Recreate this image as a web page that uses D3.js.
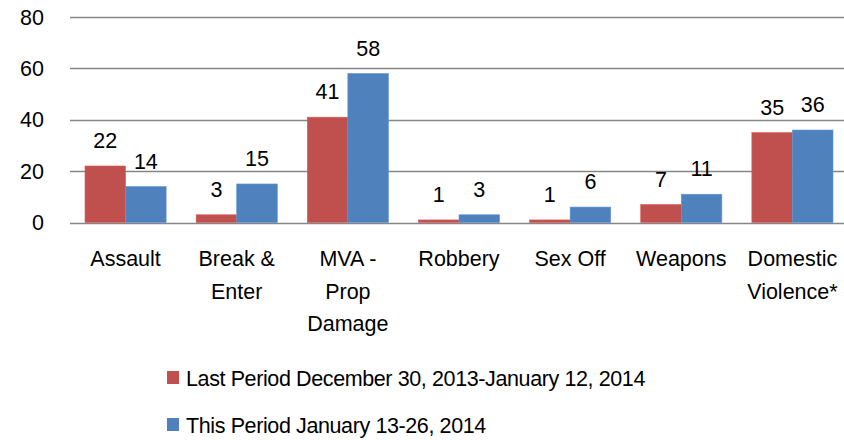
<!DOCTYPE html>
<html><head><meta charset="utf-8">
<script src="https://cdn.jsdelivr.net/npm/d3@7"></script>
<style>body{margin:0;background:#fff}svg{display:block}text{font-family:"Liberation Sans",Arial,sans-serif;fill:#000}</style>
</head><body><svg id="c" width="844" height="440"></svg>
<script>
const categories = [["Assault"],["Break &","Enter"],["MVA -","Prop","Damage"],["Robbery"],["Sex Off"],["Weapons"],["Domestic","Violence*"]];
const lastPeriod = [22,3,41,1,1,7,35];
const thisPeriod = [14,15,58,3,6,11,36];
const seriesNames = ["Last Period December 30, 2013-January 12, 2014","This Period January 13-26, 2014"];
const colors = ["#C0504D","#4F81BD"];
const yTicks = [0,20,40,60,80];

const svg = d3.select("#c");
const fs = 21.5;
// fit legend letter-spacing so the first legend text matches reference width
const probe = svg.append("text").style("font-size",fs+"px").text(seriesNames[0]);
const ls = (459 - probe.node().getComputedTextLength())/seriesNames[0].length;
probe.remove();

const x = d3.scaleBand().domain(d3.range(categories.length)).range([70,848]).paddingInner(0.27).paddingOuter(0.135);
const y = d3.scaleLinear().domain([0,80]).range([222.5,17]);
const xs = d3.scaleBand().domain([0,1]).range([0,x.bandwidth()]);

svg.append("g").selectAll("line").data(yTicks).join("line")
  .attr("x1",70).attr("x2",848).attr("y1",d=>Math.round(y(d))+0.5).attr("y2",d=>Math.round(y(d))+0.5)
  .attr("stroke","#868686").attr("stroke-width",1.3);
svg.append("g").selectAll("text").data(yTicks).join("text")
  .attr("x",44).attr("y",d=>y(d)).attr("dy","0.36em").attr("text-anchor","end")
  .style("font-size",fs+"px").text(d=>d);

const series=[lastPeriod,thisPeriod];
series.forEach((vals,si)=>{
  const g=svg.append("g");
  g.selectAll("rect").data(vals).join("rect")
    .attr("x",(d,i)=>x(i)+xs(si)).attr("width",xs.bandwidth())
    .attr("y",d=>y(d)).attr("height",d=>y(0)-y(d))
    .attr("fill",colors[si]).attr("stroke",d3.color(colors[si]).brighter(0.4)).attr("stroke-width",0.6);
  g.selectAll("text").data(vals).join("text")
    .attr("x",(d,i)=>x(i)+xs(si)+xs.bandwidth()/2).attr("y",d=>y(d)-18)
    .attr("text-anchor","middle").style("font-size",fs+"px").text(d=>d);
});

const cg=svg.append("g");
categories.forEach((lines,i)=>{
  const t=cg.append("text").attr("text-anchor","middle").style("font-size",fs+"px");
  lines.forEach((l,j)=>t.append("tspan").attr("x",x(i)+x.bandwidth()/2).attr("y",266+j*32.5).text(l));
});

const lg=svg.append("g");
seriesNames.forEach((n,i)=>{
  lg.append("rect").attr("x",167).attr("y",371+i*47).attr("width",12).attr("height",13).attr("fill",colors[i]);
  lg.append("text").attr("x",186).attr("y",386+i*46.5).style("font-size",fs+"px").style("letter-spacing",ls+"px").text(n);
});
</script></body></html>
